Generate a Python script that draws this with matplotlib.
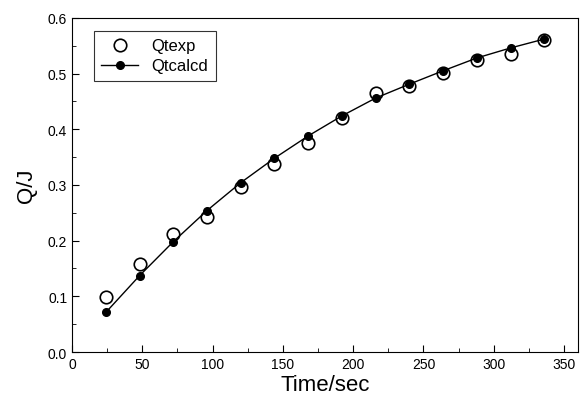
import matplotlib
matplotlib.use("Agg")
import matplotlib.pyplot as plt
from matplotlib.ticker import MultipleLocator

plt.rcParams["font.family"] = ["Liberation Sans", "DejaVu Sans"]

# time points (sec)
time_s = [24, 48, 72, 96, 120, 144, 168, 192, 216, 240, 264, 288, 312, 336]
# experimental heat
q_exp = [0.099, 0.158, 0.212, 0.242, 0.296, 0.338, 0.375, 0.420, 0.465,
         0.477, 0.501, 0.525, 0.535, 0.560]
# calculated heat
q_calc = [0.071, 0.137, 0.198, 0.254, 0.304, 0.348, 0.388, 0.424, 0.456,
          0.481, 0.505, 0.528, 0.546, 0.562]

fig = plt.figure(figsize=(5.81, 4.10), dpi=100)
ax = fig.add_axes([0.124, 0.139, 0.871, 0.815])

ax.plot(time_s, q_exp, "o", mfc="white", mec="black", mew=1.2, ms=9,
        label="Qtexp", zorder=2)
ax.plot(time_s, q_calc, "-o", color="black", lw=1.0, ms=5.5,
        label="Qtcalcd", zorder=3)

ax.set_xlim(0, 360)
ax.set_ylim(0, 0.6)
ax.xaxis.set_major_locator(MultipleLocator(50))
ax.xaxis.set_minor_locator(MultipleLocator(25))
ax.yaxis.set_major_locator(MultipleLocator(0.1))
ax.yaxis.set_minor_locator(MultipleLocator(0.05))
ax.yaxis.set_major_formatter(plt.FormatStrFormatter("%.1f"))
ax.tick_params(which="both", direction="in", top=False, right=False,
               labelsize=10)
ax.tick_params(which="major", length=5)
ax.tick_params(which="minor", length=3)

ax.set_xlabel("Time/sec", fontsize=16, labelpad=2)
ax.set_ylabel("Q/J", fontsize=16, labelpad=8)

leg = ax.legend(loc="upper left", fontsize=12, frameon=True, fancybox=False,
                edgecolor="black", bbox_to_anchor=(0.043, 0.961),
                borderaxespad=0, handlelength=2.2, borderpad=0.45,
                labelspacing=0.3)
leg.get_frame().set_linewidth(0.8)

fig.savefig("out.png", dpi=100)
